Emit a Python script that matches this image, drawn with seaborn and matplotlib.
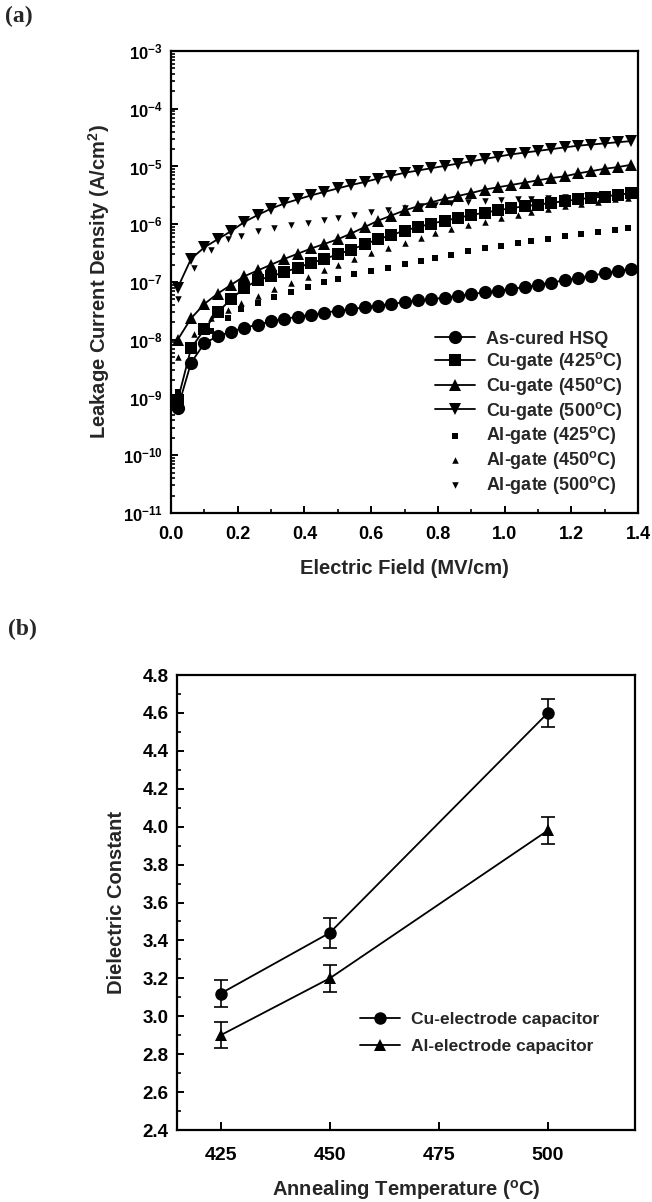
import numpy as np
import pandas as pd
import matplotlib
matplotlib.use("Agg")
import matplotlib.pyplot as plt
import seaborn as sns
from matplotlib.ticker import LogLocator, FuncFormatter, MultipleLocator, FixedLocator, NullFormatter

# ---------------- data: leakage current vs electric field ----------------
field_cu = [0.02, 0.06, 0.10, 0.14, 0.18, 0.22, 0.26, 0.30, 0.34, 0.38,
            0.42, 0.46, 0.50, 0.54, 0.58, 0.62, 0.66, 0.70, 0.74, 0.78,
            0.82, 0.86, 0.90, 0.94, 0.98, 1.02, 1.06, 1.10, 1.14, 1.18,
            1.22, 1.26, 1.30, 1.34, 1.38]
field_al = [0.02, 0.07, 0.12, 0.17, 0.21, 0.26, 0.31, 0.36, 0.41, 0.46,
            0.50, 0.55, 0.60, 0.65, 0.70, 0.75, 0.79, 0.84, 0.89, 0.94,
            0.99, 1.04, 1.08, 1.13, 1.18, 1.23, 1.28, 1.33, 1.37]

# log10 of leakage current density (A/cm^2)
log_j_as_cured = [-9.19, -8.40, -8.06, -7.94, -7.86, -7.79, -7.74, -7.68, -7.64, -7.60,
                  -7.57, -7.53, -7.50, -7.47, -7.44, -7.41, -7.38, -7.35, -7.32, -7.30,
                  -7.27, -7.24, -7.21, -7.18, -7.15, -7.12, -7.09, -7.05, -7.01, -6.97,
                  -6.93, -6.89, -6.85, -6.81, -6.77]
log_j_cu425 = [-9.05, -8.15, -7.82, -7.52, -7.30, -7.10, -6.97, -6.90, -6.83, -6.75,
               -6.67, -6.60, -6.52, -6.44, -6.35, -6.26, -6.19, -6.11, -6.05, -5.99,
               -5.94, -5.89, -5.84, -5.80, -5.76, -5.72, -5.69, -5.66, -5.63, -5.60,
               -5.57, -5.54, -5.52, -5.49, -5.46]
log_j_cu450 = [-8.00, -7.63, -7.38, -7.20, -7.05, -6.90, -6.80, -6.70, -6.60, -6.51,
               -6.42, -6.34, -6.26, -6.16, -6.05, -5.94, -5.85, -5.76, -5.69, -5.62,
               -5.56, -5.51, -5.46, -5.40, -5.36, -5.32, -5.28, -5.24, -5.20, -5.17,
               -5.12, -5.08, -5.04, -5.01, -4.97]
log_j_cu500 = [-7.10, -6.60, -6.40, -6.26, -6.12, -5.96, -5.84, -5.73, -5.64, -5.57,
               -5.50, -5.44, -5.38, -5.32, -5.27, -5.21, -5.16, -5.11, -5.07, -5.03,
               -4.99, -4.95, -4.91, -4.87, -4.83, -4.79, -4.76, -4.73, -4.70, -4.67,
               -4.64, -4.62, -4.60, -4.58, -4.56]
log_j_al425 = [-8.90, -8.20, -7.85, -7.62, -7.47, -7.36, -7.26, -7.17, -7.08, -7.00,
               -6.94, -6.87, -6.81, -6.75, -6.69, -6.64, -6.58, -6.53, -6.47, -6.42,
               -6.38, -6.33, -6.29, -6.25, -6.21, -6.17, -6.14, -6.10, -6.07]
log_j_al450 = [-8.30, -7.90, -7.62, -7.48, -7.36, -7.25, -7.12, -7.02, -6.92, -6.80,
               -6.70, -6.60, -6.50, -6.41, -6.33, -6.24, -6.16, -6.09, -6.02, -5.96,
               -5.90, -5.84, -5.79, -5.74, -5.69, -5.65, -5.61, -5.57, -5.54]
log_j_al500 = [-7.30, -6.75, -6.45, -6.25, -6.20, -6.12, -6.07, -6.02, -5.97, -5.93,
               -5.89, -5.84, -5.79, -5.75, -5.72, -5.69, -5.67, -5.64, -5.62, -5.60,
               -5.58, -5.57, -5.56, -5.55, -5.53, -5.51, -5.49, -5.47, -5.45]

# ---------------- data: dielectric constant vs annealing temperature ----------------
anneal_temp = [425, 450, 500]
k_cu = [3.12, 3.44, 4.60]
k_cu_err = [0.07, 0.08, 0.075]
k_al = [2.90, 3.20, 3.98]
k_al_err = [0.07, 0.07, 0.07]

# ---------------- style ----------------
sns.set_style("ticks")
plt.rcParams.update({
    "font.family": ["Liberation Sans", "DejaVu Sans"],
    "font.weight": "bold",
    "axes.labelweight": "bold",
    "mathtext.fontset": "custom",
    "mathtext.rm": "Liberation Sans:bold",
    "mathtext.bf": "Liberation Sans:bold",
    "mathtext.it": "Liberation Sans:bold",
    "mathtext.default": "bf",
    "axes.linewidth": 1.6,
    "axes.edgecolor": "black",
    "xtick.direction": "in",
    "ytick.direction": "in",
    "xtick.major.width": 1.4,
    "ytick.major.width": 1.4,
    "xtick.minor.width": 1.2,
    "ytick.minor.width": 1.2,
    "xtick.color": "black",
    "ytick.color": "black",
})

fig = plt.figure(figsize=(6.52, 12.02), dpi=100)
ax_a = fig.add_axes([0.2623, 0.5732, 0.7163, 0.3844])
ax_b = fig.add_axes([0.2715, 0.0599, 0.7025, 0.3785])

deg = r"$^{\mathrm{o}}$"

# ---------------- panel (a) ----------------
cu_series = [
    (log_j_as_cured, "o", 9.5, "As-cured HSQ"),
    (log_j_cu425, "s", 8.0, f"Cu-gate (425{deg}C)"),
    (log_j_cu450, "^", 9.0, f"Cu-gate (450{deg}C)"),
    (log_j_cu500, "v", 9.0, f"Cu-gate (500{deg}C)"),
]
for vals, mk, ms, lab in cu_series:
    df = pd.DataFrame({"E": field_cu, "J": np.power(10.0, vals)})
    sns.lineplot(data=df, x="E", y="J", ax=ax_a, color="black", lw=1.3,
                 marker=mk, markersize=ms, markeredgewidth=0, label=lab,
                 sort=False, estimator=None)

al_series = [
    (log_j_al425, "s", 16, f"Al-gate (425{deg}C)"),
    (log_j_al450, "^", 22, f"Al-gate (450{deg}C)"),
    (log_j_al500, "v", 22, f"Al-gate (500{deg}C)"),
]
for vals, mk, sz, lab in al_series:
    df = pd.DataFrame({"E": field_al, "J": np.power(10.0, vals)})
    sns.scatterplot(data=df, x="E", y="J", ax=ax_a, color="black", marker=mk,
                    s=sz, linewidth=0, label=lab)

ax_a.set_yscale("log")
ax_a.set_xlim(0.0, 1.4)
ax_a.set_ylim(1e-11, 1e-3)
ax_a.yaxis.set_major_locator(LogLocator(base=10, numticks=20))
ax_a.yaxis.set_minor_locator(LogLocator(base=10, subs=np.arange(2, 10), numticks=20))
ax_a.yaxis.set_minor_formatter(NullFormatter())
ax_a.yaxis.set_major_formatter(
    FuncFormatter(lambda v, p: r"$10^{%d}$" % int(round(np.log10(v)))))
ax_a.xaxis.set_major_locator(MultipleLocator(0.2))
ax_a.xaxis.set_minor_locator(MultipleLocator(0.1))
ax_a.xaxis.set_major_formatter(FuncFormatter(lambda v, p: f"{v:.1f}"))
ax_a.tick_params(axis="y", which="major", length=5, labelsize=12, pad=6)
ax_a.tick_params(axis="y", which="minor", length=3)
ax_a.tick_params(axis="x", which="major", length=5, labelsize=13, pad=9)
ax_a.tick_params(axis="x", which="minor", length=3)
ax_a.set_xlabel("Electric Field (MV/cm)", fontsize=14.5, labelpad=12)
ax_a.set_ylabel(r"Leakage Current Density (A/cm$^{2}$)", fontsize=14.5, labelpad=8)

leg_a = ax_a.legend(loc="upper left", bbox_to_anchor=(0.565, 0.395), frameon=False,
                    fontsize=13, handlelength=2.2, handletextpad=0.65,
                    labelspacing=0.15, borderpad=0, borderaxespad=0)

# ---------------- panel (b) ----------------
df_b = pd.DataFrame({"T": anneal_temp * 2,
                     "k": k_cu + k_al,
                     "cap": ["Cu-electrode capacitor"] * 3 + ["Al-electrode capacitor"] * 3})
sns.lineplot(data=df_b, x="T", y="k", hue="cap", style="cap",
             palette=["black", "black"], markers=["o", "^"], dashes=False,
             markersize=9, markeredgewidth=0, lw=1.3, ax=ax_b)
ax_b.errorbar(anneal_temp, k_cu, yerr=k_cu_err, fmt="none", ecolor="black",
              elinewidth=1.2, capsize=5, capthick=1.2)
ax_b.errorbar(anneal_temp, k_al, yerr=k_al_err, fmt="none", ecolor="black",
              elinewidth=1.2, capsize=5, capthick=1.2)

ax_b.set_xlim(415, 520)
ax_b.set_ylim(2.4, 4.8)
ax_b.xaxis.set_major_locator(FixedLocator([425, 450, 475, 500]))
ax_b.yaxis.set_major_locator(MultipleLocator(0.2))
ax_b.yaxis.set_minor_locator(MultipleLocator(0.1))
ax_b.yaxis.set_major_formatter(FuncFormatter(lambda v, p: f"{v:.1f}"))
ax_b.tick_params(axis="y", which="major", length=5, labelsize=13.5, pad=6)
ax_b.tick_params(axis="y", which="minor", length=3)
ax_b.tick_params(axis="x", which="major", length=6, labelsize=14, pad=12)
ax_b.set_xlabel(f"Annealing Temperature ({deg}C)", fontsize=14.5, labelpad=10)
ax_b.set_ylabel("Dielectric Constant", fontsize=14.5, labelpad=12)

leg_b = ax_b.legend(loc="upper left", bbox_to_anchor=(0.40, 0.26), frameon=False,
                    fontsize=12.5, handlelength=2.3, handletextpad=0.6,
                    labelspacing=0.67, borderpad=0, borderaxespad=0)

# panel tags
fig.text(0.008, 0.986, "(a)", fontsize=17, fontweight="bold",
         family="Liberation Serif", ha="left", va="center")
fig.text(0.012, 0.476, "(b)", fontsize=17, fontweight="bold",
         family="Liberation Serif", ha="left", va="center")

fig.savefig("out.png", dpi=100)
